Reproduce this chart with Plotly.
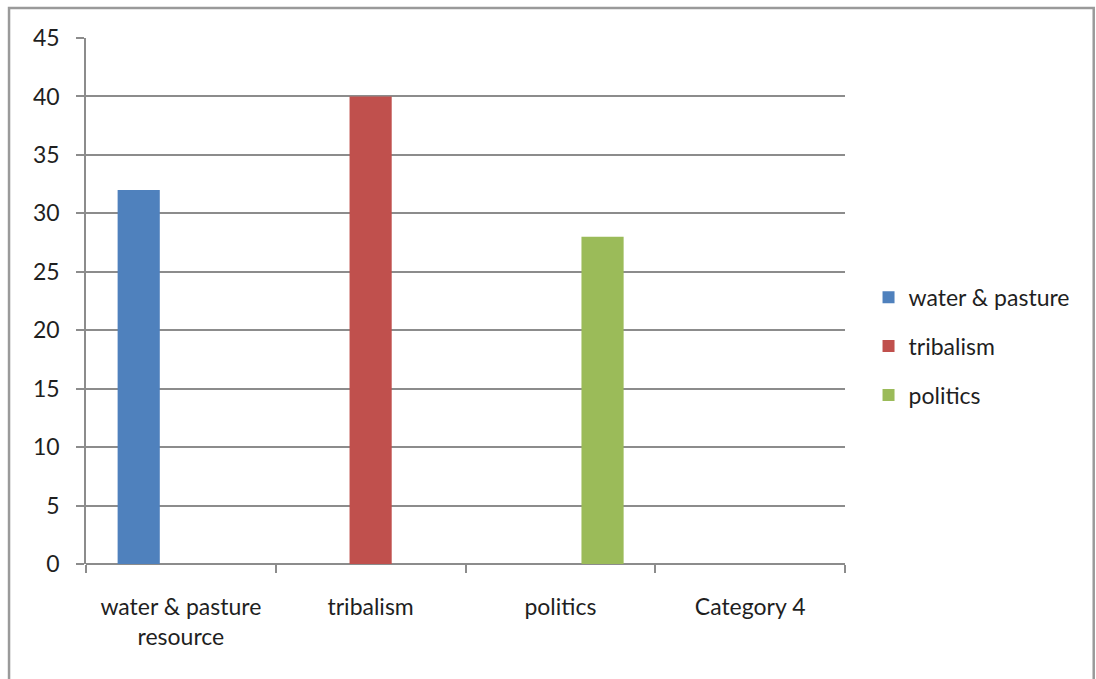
import plotly.graph_objects as go

categories = ["water & pasture<br>resource", "tribalism", "politics", "Category 4"]
series_names = ["water & pasture", "tribalism", "politics"]
water_pasture = [32, None, None, None]
tribalism = [None, 40, None, None]
politics = [None, None, 28, None]
series_values = [water_pasture, tribalism, politics]
colors = ["#4F81BD", "#C0504D", "#9BBB59"]
y_ticks = [0, 5, 10, 15, 20, 25, 30, 35, 40, 45]

FONT = "Lato, Carlito, Calibri, sans-serif"
FSIZE = 23

fig = go.Figure()
for i, (name, vals, col) in enumerate(zip(series_names, series_values, colors)):
    fig.add_trace(go.Bar(
        name=name,
        x=categories,
        y=vals,
        marker=dict(color=col, line=dict(color=col, width=0)),
        legendgroup=f"g{i}",
    ))

fig.update_layout(
    barmode="group",
    bargap=1.5 / 4.5,
    bargroupgap=0,
    width=1096,
    height=679,
    margin=dict(l=86, r=251, t=38, b=115),
    paper_bgcolor="white",
    plot_bgcolor="white",
    font=dict(family=FONT, size=FSIZE, color="#1f1f1f"),
    showlegend=True,
    legend=dict(
        x=1.031, y=0.414, xanchor="left", yanchor="middle",
        font=dict(family=FONT, size=FSIZE, color="#1f1f1f"),
        tracegroupgap=16,
        bgcolor="rgba(0,0,0,0)",
    ),
    xaxis=dict(
        type="category",
        showgrid=False,
        showline=False,
        ticks="outside",
        ticklen=8,
        tickcolor="#8c8c8c",
        tickwidth=1.5,
        tickson="boundaries",
        tickfont=dict(family=FONT, size=FSIZE, color="#1f1f1f"),
        ticklabelstandoff=27,
        range=[-0.5, 3.5],
        fixedrange=True,
    ),
    yaxis=dict(
        range=[0, 45],
        tickvals=y_ticks,
        showgrid=True,
        gridcolor="#8c8c8c",
        gridwidth=1.5,
        showline=True,
        linecolor="#8c8c8c",
        linewidth=1.5,
        ticks="outside",
        ticklen=8,
        tickcolor="#8c8c8c",
        tickwidth=1.5,
        ticklabelstandoff=12,
        tickfont=dict(family=FONT, size=FSIZE, color="#1f1f1f"),
        zeroline=True,
        zerolinecolor="#8c8c8c",
        zerolinewidth=1.5,
        fixedrange=True,
    ),
)

# chart frame
fig.add_shape(
    type="rect", xref="paper", yref="paper",
    x0=-0.1014, x1=1.3277, y0=-0.4, y1=1.057,
    line=dict(color="#9a9a9a", width=2.5),
    fillcolor="rgba(0,0,0,0)", layer="below",
)

fig.write_html("out.html")
